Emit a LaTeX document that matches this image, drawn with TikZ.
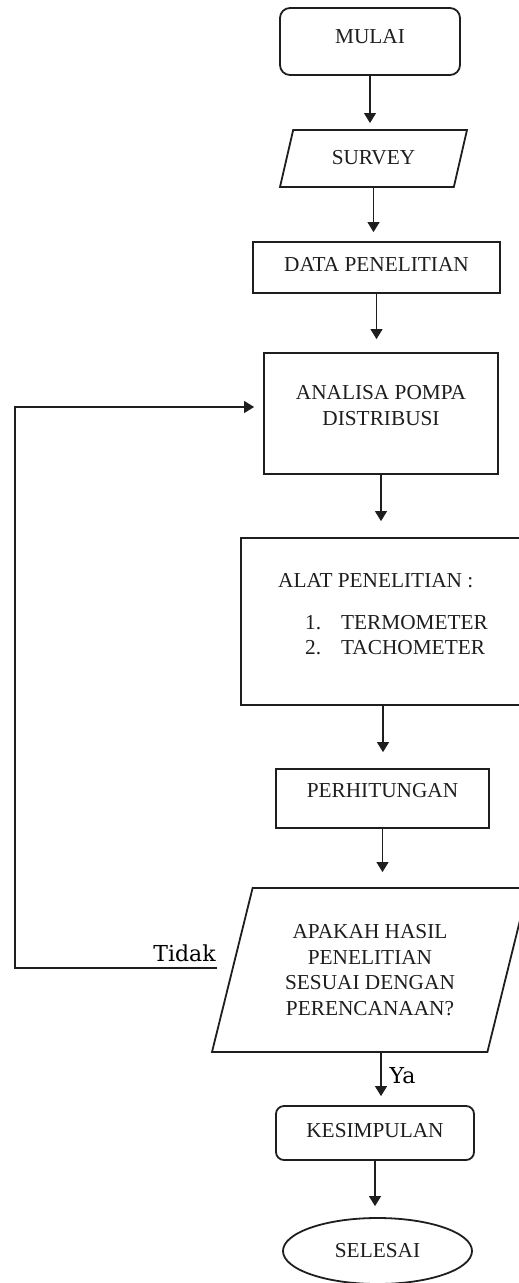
\documentclass[tikz,border=0pt]{standalone}
\usepackage{fontspec}
\setmainfont{Liberation Serif}
\newfontfamily\slabfont{DejaVu Serif}
\usetikzlibrary{arrows.meta,shapes.geometric,calc}

\begin{document}
\begin{tikzpicture}[
        x=1pt, y=-1pt, % satu satuan = satu piksel sketsa, y ke bawah
        >={Triangle[width=12pt,length=10pt]},
        kotak/.style={rectangle, draw=garis, line width=1.8pt, text=teks,
            inner sep=2pt, font=\fontsize{21.3}{25.5}\selectfont},
        bulat/.style={kotak, rounded corners=#1},
        jajar/.style={kotak, trapezium, trapezium stretches body,
            trapezium left angle=#1, trapezium right angle=180-#1},
        lonjong/.style={kotak, ellipse},
        panah/.style={->, draw=garis, line width=1.1pt},
        jawab/.style={font=\slabfont\fontsize{22}{26}\selectfont, text=black, inner sep=0pt}
    ]

        % --- WARNA ---
        \definecolor{garis}{RGB}{30, 30, 30}
        \definecolor{teks}{RGB}{30, 30, 30}

        % --- BATAS GAMBAR ---
        \useasboundingbox (0,0) rectangle (519,1283);

        % --- LANGKAH-LANGKAH ---
        \node[bulat=10pt, minimum width=180, minimum height=67, text depth=11pt]
            (mulai) at (370,41.5) {MULAI};
        \node[jajar=77, minimum width=187, minimum height=57, inner ysep=20pt, text depth=3pt]
            (survey) at (373.5,158.5) {SURVEY};
        \node[kotak, minimum width=247, minimum height=51, text depth=7pt]
            (data) at (376.5,267.5) {DATA PENELITIAN};
        \node[kotak, minimum width=234, minimum height=121, align=center, text depth=16pt]
            (analisa) at (381,413.5) {ANALISA POMPA\\DISTRIBUSI};
        \node[kotak, minimum width=284, minimum height=167, align=left, text depth=15pt]
            (alat) at (383,621.5) {ALAT PENELITIAN :\\[16pt]
            \hspace*{27pt}\makebox[36pt][l]{1.}TERMOMETER\\
            \hspace*{27pt}\makebox[36pt][l]{2.}TACHOMETER};
        \node[kotak, minimum width=213, minimum height=59, text depth=17pt]
            (hitung) at (382.5,798.5) {PERHITUNGAN};
        \node[jajar=76, minimum width=316, minimum height=164, inner ysep=36pt, align=center]
            (tanya) at (370,970) {APAKAH HASIL\\PENELITIAN\\SESUAI DENGAN\\PERENCANAAN?};
        \node[bulat=8pt, minimum width=198, minimum height=54, text depth=6pt]
            (simpul) at (375,1133) {KESIMPULAN};
        \node[lonjong, minimum width=189, minimum height=66]
            (selesai) at (377.5,1251) {SELESAI};

        % --- LABEL JAWABAN ---
        \node[jawab] (tidak) at (184.5,953) {Tidak};
        \node[jawab] (ya) at (402.5,1076) {Ya};

        % --- PANAH ALUR ---
        \draw[panah, shorten >=6pt] (mulai.south) -- (mulai.south |- survey.north);
        \draw[panah, shorten >=9pt] (survey.south) -- (survey.south |- data.north);
        \draw[panah, shorten >=13pt] (data.south) -- (data.south |- analisa.north);
        \draw[panah, shorten >=16pt] (analisa.south) -- (analisa.south |- alat.north);
        \draw[panah, shorten >=16pt] (alat.south) -- (alat.south |- hitung.north);
        \draw[panah, shorten >=15pt] (hitung.south) -- (hitung.south |- tanya.north);
        \draw[panah, shorten >=9pt] ([xshift=11pt]tanya.south) -- ([xshift=11pt]tanya.south |- simpul.north);
        \draw[panah, shorten >=11pt] (simpul.south) -- (simpul.south |- selesai.north);

        % --- ALUR KEMBALI (TIDAK) ---
        \coordinate (ujung) at (217,968);
        \coordinate (sudut) at (15,968);
        \draw[panah, shorten >=9pt] (ujung) -- (sudut) |- ([yshift=6.5pt]analisa.west);

\end{tikzpicture}
\end{document}
